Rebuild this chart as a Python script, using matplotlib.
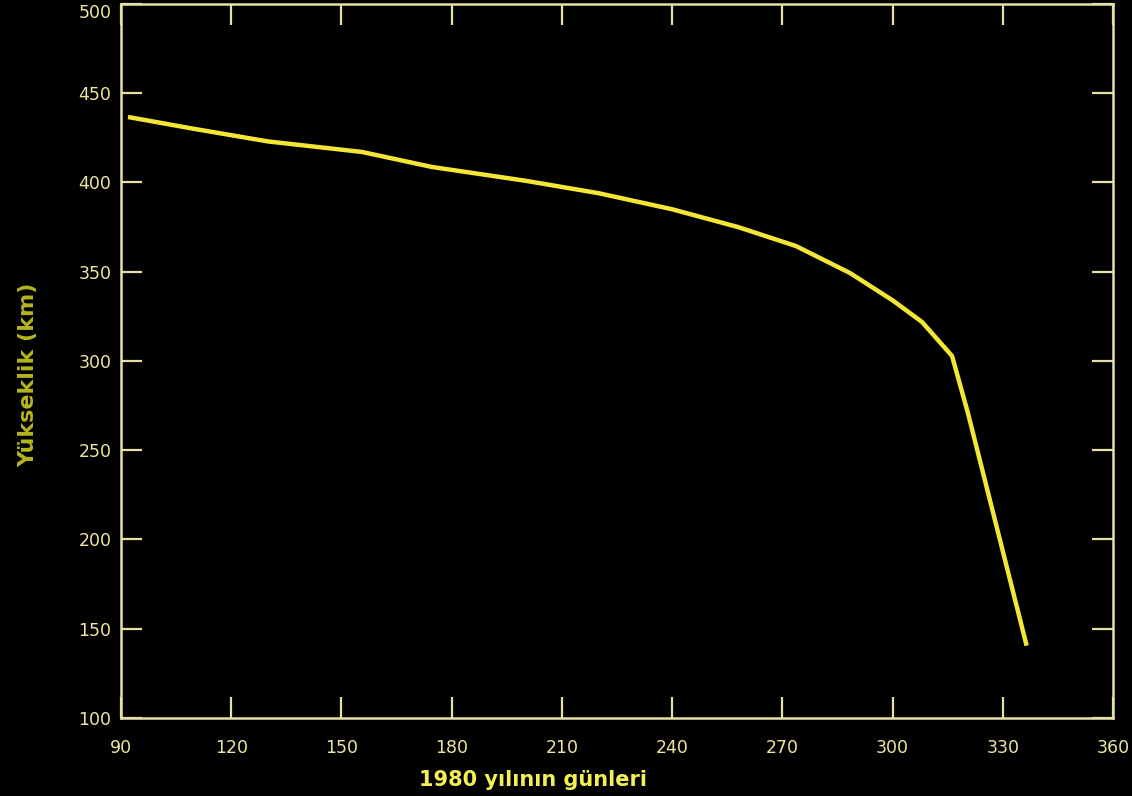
import matplotlib
matplotlib.use('Agg')
import matplotlib.pyplot as plt

# altitude of the satellite over 1980
days = [91.9, 110, 130, 155.6, 174.6, 200, 220, 240, 258, 273.7, 288.4, 300, 308, 316.2, 320.5, 336.5]
altitude = [436.7, 430, 423, 417.1, 408.7, 401, 394, 385, 375, 364.4, 349.3, 334, 321.9, 302.8, 271, 140.5]

xticks = [90, 120, 150, 180, 210, 240, 270, 300, 330, 360]
yticks = [100, 150, 200, 250, 300, 350, 400, 450, 500]

axis_col = '#e6dfa6'
label_col = '#ede6a0'
line_col = '#f4e634'

fig = plt.figure(figsize=(11.32, 7.96), dpi=100, facecolor='black')
ax = fig.add_axes([0.1069, 0.098, 0.8763, 0.897], facecolor='black')

ax.plot(days, altitude, color=line_col, linewidth=3.2, solid_capstyle='butt', solid_joinstyle='round')

ax.set_xlim(90, 360)
ax.set_ylim(100, 500)
ax.set_xticks(xticks)
ax.set_yticks(yticks)

for side in ax.spines.values():
    side.set_color(axis_col)
    side.set_linewidth(1.8)

ax.tick_params(axis='both', direction='in', length=15, width=1.6, color=axis_col,
               labelcolor=label_col, labelsize=12.5, top=True, right=True)
ax.tick_params(axis='x', pad=15)
ax.tick_params(axis='y', pad=7)

# top label sits just below the frame in the original
ax.get_yticklabels()[-1].set_va('top')

fig.text(0.471, 0.02, '1980 yılının günleri', color='#f2f052', fontsize=15,
         fontweight='bold', ha='center', va='center')
fig.text(0.025, 0.529, 'Yükseklik (km)', color='#b5b51e', fontsize=16,
         fontweight='bold', ha='center', va='center', rotation=90)

fig.savefig('out.png', dpi=100, facecolor='black')
